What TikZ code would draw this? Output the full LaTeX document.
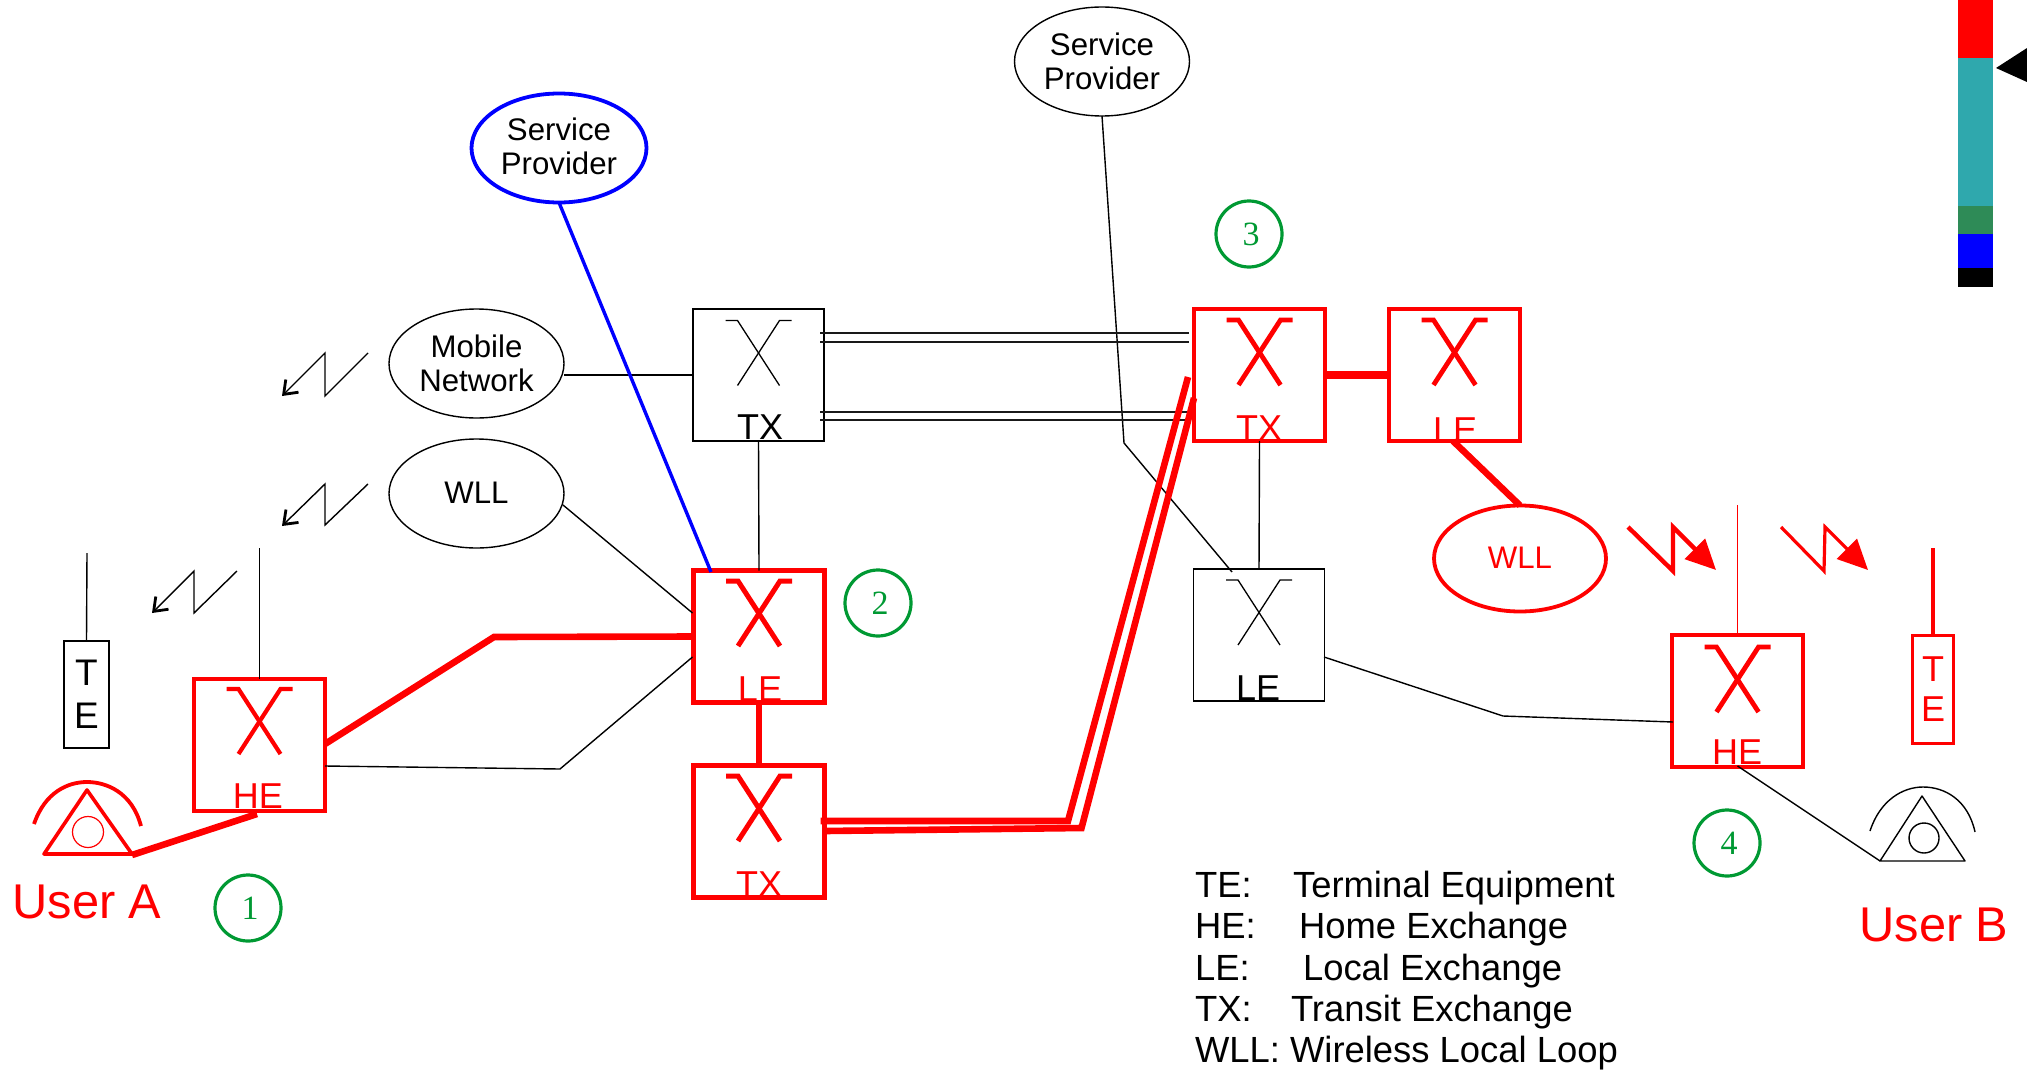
\documentclass[tikz,border=0pt]{standalone}
\usepackage{fontspec}
\setmainfont{Liberation Sans}
\newfontfamily\numfont{Liberation Serif}
\usetikzlibrary{shapes.geometric,arrows.meta}
\definecolor{numgreen}{RGB}{0,153,51}
\definecolor{barteal}{RGB}{47,168,173}
\definecolor{bargreen}{RGB}{46,139,87}
\tikzset{
  base/.style={inner sep=0pt,outer sep=0pt},
  swbox/.style={base,rectangle,draw=black,line width=.65pt,minimum width=65.5pt,minimum height=66pt},
  swred/.style={swbox,draw=red,line width=2.1pt},
  telabel/.style={align=center,font=\fontsize{18.5}{21.5}\selectfont},
  cloud/.style={base,ellipse,draw=black,line width=.7pt,minimum width=87.5pt,minimum height=54.5pt,align=center,font=\fontsize{15.6}{17}\selectfont},
  num/.style={base,ellipse,draw=numgreen,text=numgreen,line width=1.6pt,minimum width=33pt,minimum height=33pt,font=\numfont\fontsize{17}{20}\selectfont},
  boxtext/.style={base,anchor=base,font=\fontsize{18}{20}\selectfont},
  bigtext/.style={base,anchor=base,text=red,font=\fontsize{24.4}{27}\selectfont},
  legend/.style={base,anchor=base west,font=\fontsize{18.2}{20}\selectfont},
  thin link/.style={draw=black,line width=.7pt},
  red link/.style={draw=red,line width=3.3pt},
  double line/.style={draw=black!90,line width=.7pt},
  black bolt/.style={draw=black,line width=.7pt,-{Straight Barb[length=6pt,width=9pt,line width=1.4pt]}},
  red bolt/.style={draw=red,line join=miter,-{Triangle[length=15pt,width=14pt]}},
}
\newcommand{\xchange}[3]{%
  \draw[#3] (#1-33,#2) -- (#1-21,#2) -- (#1+21,#2+65);
  \draw[#3] (#1+33,#2) -- (#1+21,#2) -- (#1-21,#2+65);
}
\begin{document}
\begin{tikzpicture}[x=.5pt,y=-.5pt]
\useasboundingbox (0,0) rectangle (2027,1070);

% level bar
\fill[red] (1958,0) rectangle (1993,58);
\fill[barteal] (1958,58) rectangle (1993,206);
\fill[bargreen] (1958,206) rectangle (1993,234);
\fill[blue] (1958,234) rectangle (1993,268);
\fill[black] (1958,268) rectangle (1993,287);
\fill[black] (1996,68) -- (2027,48) -- (2027,82) -- cycle;

% exchanges
\node[swred] (heA) at (259.5,745) {};
\node[swred] (leM) at (759,636.5) {};
\node[swred] (txM) at (759,831.5) {};
\node[swbox] (txK) at (758.5,375) {};
\node[swred] (txR) at (1259.5,375) {};
\node[swred] (leR) at (1454.5,375) {};
\node[swbox] (leK) at (1259,635) {};
\node[swred] (heB) at (1737.5,701) {};

\xchange{259.5}{689}{draw=red,line width=2.1pt}
\xchange{759}{581}{draw=red,line width=2.5pt}
\xchange{759}{776}{draw=red,line width=2.5pt}
\xchange{758.5}{320.5}{draw=black,line width=.65pt}
\xchange{1259.5}{320}{draw=red,line width=2.4pt}
\xchange{1454.5}{320}{draw=red,line width=2.4pt}
\xchange{1259}{580}{draw=black,line width=.65pt}
\xchange{1737.5}{647}{draw=red,line width=2.4pt}

\node[boxtext,text=red] (heAt) at (258,808) {HE};
\node[boxtext,text=red] (leMt) at (760,701) {LE};
\node[boxtext,text=red] (txMt) at (759,896) {TX};
\node[boxtext] (txKt) at (760,439) {TX};
\node[boxtext,text=red] (txRt) at (1259,440) {TX};
\node[boxtext,text=red] (leRt) at (1455,442) {LE};
\node[boxtext] (leKt) at (1258,700) {LE};
\node[boxtext,text=red] (heBt) at (1737,764) {HE};

% terminals
\node[base,rectangle,draw=black,line width=.7pt,minimum width=22.5pt,minimum height=53.5pt,telabel] (teA) at (86.5,694.5) {\raisebox{.7pt}{T}\\\raisebox{.7pt}{E}};
\node[base,rectangle,draw=red,line width=1.7pt,minimum width=20.5pt,minimum height=54pt,telabel,text=red,font=\fontsize{18}{20}\selectfont] (teB) at (1933,689.5) {\raisebox{.7pt}{T}\\\raisebox{.7pt}{E}};

% clouds
\node[cloud] (mobile) at (476.5,363.5) {Mobile\\Network};
\node[cloud] (wllK) at (476.5,493.5) {\raisebox{1pt}{WLL}};
\node[cloud,draw=blue,line width=1.9pt] (spB) at (559,148) {\raisebox{1.5pt}{Service}\\\raisebox{1.5pt}{Provider}};
\node[cloud] (spK) at (1102,61.5) {Service\\Provider};
\node[cloud,draw=red,text=red,line width=1.9pt,minimum width=86pt,minimum height=53pt] (wllR) at (1520,558.5) {\raisebox{1pt}{WLL}};

% numbers
\node[num] (n1) at (248,908) {\hspace*{2pt}1};
\node[num] (n2) at (878,603) {\hspace*{2pt}2};
\node[num] (n3) at (1249,234) {\hspace*{2pt}3};
\node[num] (n4) at (1727,843) {\hspace*{2pt}4};

% named free ends and bends
\coordinate (antTE) at (87,553);
\coordinate (antHE) at (259.5,548);
\coordinate (antHEB) at (1737.5,505);
\coordinate (antTEB) at (1933,548);
\coordinate (mobileR) at (564,375);
\coordinate (bendHi) at (494,637);
\coordinate (bendLo) at (560,769);
\coordinate (bendSP) at (1124,443);
\coordinate (bendB) at (1503,716);
\coordinate (phoneAr) at (132,855);
\coordinate (phoneBl) at (1880,861);
\coordinate (heAb) at (257,814);
\coordinate (heAr1) at (325,744);
\coordinate (heAr2) at (325,766);
\coordinate (leMl1) at (692.5,613);
\coordinate (leMl2) at (692.5,657);
\coordinate (leKt1) at (1232,572);
\coordinate (leKr) at (1324,657);
\coordinate (heBl) at (1673,722);
\coordinate (heBb) at (1737.5,766);
\coordinate (wllKr) at (563,505);
\coordinate (leMb) at (711,572);
\coordinate (txRb1) at (1188,377);
\coordinate (txRb2) at (1194,398);
\coordinate (txMr1) at (820.5,821);
\coordinate (txMr2) at (825,831);
\coordinate (b1) at (1068,821);
\coordinate (b2) at (1081.5,828);
\coordinate (leRb) at (1453,441);

% black links
\draw[thin link] (teA.north) -- (antTE);
\draw[thin link] (heA.north) -- (antHE);
\draw[thin link] (mobileR) -- (txK.west |- mobileR);
\draw[thin link] (wllKr) -- (leMl1);
\draw[thin link] (heAr2) -- (bendLo) -- (leMl2);
\draw[thin link] (txK.south) -- (leM.north);
\draw[thin link] (txR.south) -- (leK.north);
\draw[thin link] (spK.south) -- (bendSP) -- (leKt1);
\draw[thin link] (leKr) -- (bendB) -- (heBl);
\draw[thin link] (heBb) -- (phoneBl);

% trunk lines
\draw[double line] (820,333) -- (1189,333);
\draw[double line] (820,342) -- (1189,342);
\draw[double line] (820,412) -- (1189,412);
\draw[double line] (820,420) -- (1189,420);

% coloured links
\draw[draw=blue,line width=1.7pt] (spB.south) -- (leMb);
\draw[red link,line join=miter] (heAr1) -- (bendHi) -- (leM.west);
\draw[red link] (phoneAr) -- (heAb);
\draw[red link] (leM.south) -- (txM.north);
\draw[red link,line width=3.8pt] (txR.east) -- (leR.west);
\draw[red link] (leRb) -- (wllR.north);
\draw[red link] (txMr1) -- (b1) -- (txRb1);
\draw[red link] (txMr2) -- (b2) -- (txRb2);
\draw[draw=red,line width=.8pt] (heB.north) -- (antHEB);
\draw[draw=red,line width=2.2pt] (teB.north) -- (antTEB);

% radio bolts
\draw[black bolt] (368,353) -- (325,396) -- (325,353) -- (282,396);
\draw[black bolt] (368,484) -- (325,525) -- (325,484) -- (282,526);
\draw[black bolt] (237,571) -- (194,613) -- (194,571) -- (152,613);
\draw[red bolt,line width=2.2pt] (1628,527) -- (1673,571) -- (1673,527) -- (1716,570);
\draw[red bolt,line width=1.6pt] (1781,527) -- (1824,571) -- (1825,527) -- (1868,570);

% telephones
\draw[draw=red,line width=1.8pt,line join=round] (87,790) -- (44,854) -- (132,854) -- cycle;
\draw[draw=red,line width=.6pt] (88,832) circle[radius=15.5];
\draw[draw=red,line width=1.9pt] (34,824) .. controls (45,792) and (68,782) .. (87,782) .. controls (106,782) and (132,792) .. (141,826);
\draw[draw=black,line width=.7pt,line join=round] (1922,796) -- (1880,861) -- (1965,861) -- cycle;
\draw[draw=black,line width=.7pt] (1924,838) circle[radius=15];
\draw[draw=black,line width=.7pt] (1870,831) .. controls (1880,800) and (1903,787) .. (1923,787) .. controls (1945,787) and (1968,800) .. (1975,832);

% captions
\node[bigtext] (userA) at (87,918) {User A};
\node[bigtext] (userB) at (1934,941) {User B};

% legend
\node[legend] (l1) at (1195,897.5) {TE:\hspace{20.7pt}Terminal Equipment};
\node[legend] (l2) at (1195,938.5) {HE:\hspace{21.7pt}Home Exchange};
\node[legend] (l3) at (1195,980) {LE:\hspace{26.7pt}Local Exchange};
\node[legend] (l4) at (1195,1021.5) {TX:\hspace{19.7pt}Transit Exchange};
\node[legend] (l5) at (1195,1062.5) {WLL: Wireless Local Loop};
\end{tikzpicture}
\end{document}
